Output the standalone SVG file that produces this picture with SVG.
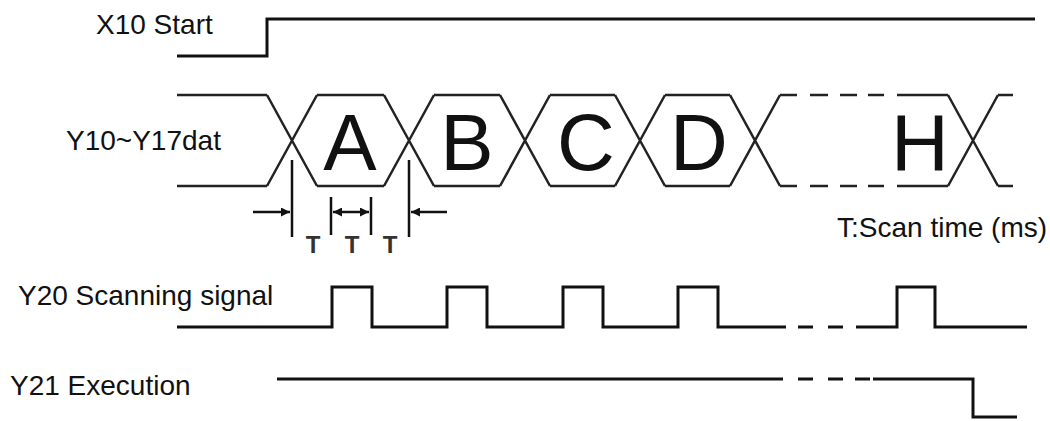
<svg xmlns="http://www.w3.org/2000/svg" width="1050" height="421" viewBox="0 0 1050 421">
  <style>
    .lbl { font-family: "Liberation Sans", Arial, sans-serif; font-size: 28px; fill: #111; }
    .big { font-family: "Liberation Sans", Arial, sans-serif; font-size: 80px; fill: #111; text-anchor: middle; }
    .t { font-family: "Liberation Sans", Arial, sans-serif; font-size: 24px; font-weight: bold; fill: #333; text-anchor: middle; }
    .sig { fill: none; stroke: #111; stroke-width: 3; stroke-linejoin: miter; }
    .bus { fill: none; stroke: #222; stroke-width: 2.5; }
    .tick { fill: none; stroke: #111; stroke-width: 2.5; }
  </style>
  <defs>
    <marker id="ah" viewBox="0 0 10 10" refX="10" refY="5" markerWidth="9" markerHeight="9" markerUnits="userSpaceOnUse" orient="auto-start-reverse">
      <path d="M0,0 L10,5 L0,10 Z" fill="#111"/>
    </marker>
  </defs>
  <rect width="1050" height="421" fill="#fff"/>

  <g id="x10">
    <text class="lbl" x="96" y="34">X10 Start</text>
    <path class="sig" d="M177,56 H267 V19 H1035"/>
  </g>

  <g id="bus">
    <text class="lbl" x="66" y="150">Y10~Y17dat</text>
    <path class="bus" d="M177,95 H267 M317,95 H384 M434,95 H500 M550,95 H615 M665,95 H730 M998,95 H1013
                         M177,186 H267 M317,186 H384 M434,186 H500 M550,186 H615 M665,186 H730 M998,186 H1013"/>
    <path class="bus" d="M267,95 L317,186 M267,186 L317,95
                         M384,95 L434,186 M384,186 L434,95
                         M500,95 L550,186 M500,186 L550,95
                         M615,95 L665,186 M615,186 L665,95
                         M730,95 L780,186 M730,186 L780,95
                         M948,95 L998,186 M948,186 L998,95"/>
    <path class="bus" d="M780,95 H797 M810,95 H828 M840,95 H857 M868,95 H884 M897,95 H948
                         M780,186 H797 M810,186 H828 M840,186 H857 M868,186 H884 M897,186 H948"/>
    <text class="big" x="350" y="170">A</text>
    <text class="big" x="467" y="170">B</text>
    <text class="big" x="586" y="170">C</text>
    <text class="big" x="699" y="170">D</text>
    <text class="big" x="920" y="170">H</text>
  </g>

  <g id="timing">
    <path class="tick" d="M292,160 V237 M331,197 V235 M371,197 V235 M409,160 V237"/>
    <line class="tick" x1="253" y1="212" x2="290" y2="212" marker-end="url(#ah)"/>
    <line class="tick" x1="333" y1="212" x2="369" y2="212" marker-start="url(#ah)" marker-end="url(#ah)"/>
    <line class="tick" x1="447" y1="212" x2="411" y2="212" marker-end="url(#ah)"/>
    <text class="t" x="313" y="253">T</text>
    <text class="t" x="352" y="253">T</text>
    <text class="t" x="390" y="253">T</text>
    <text class="lbl" x="837" y="237">T:Scan time (ms)</text>
  </g>

  <g id="y20">
    <text class="lbl" x="18" y="305">Y20 Scanning signal</text>
    <path class="sig" d="M177,327 H332 V287 H372 V327 H447 V287 H487 V327 H563 V287 H603 V327 H678 V287 H718 V327 H786
                         M798,327 H813 M828,327 H843
                         M856,327 H897 V287 H935 V327 H1027"/>
  </g>

  <g id="y21">
    <text class="lbl" x="10" y="395">Y21 Execution</text>
    <path class="sig" d="M277,379 H783 M798,379 H813 M828,379 H843 M855,379 H870 M873,379 H973 V417 H1017"/>
  </g>
</svg>
